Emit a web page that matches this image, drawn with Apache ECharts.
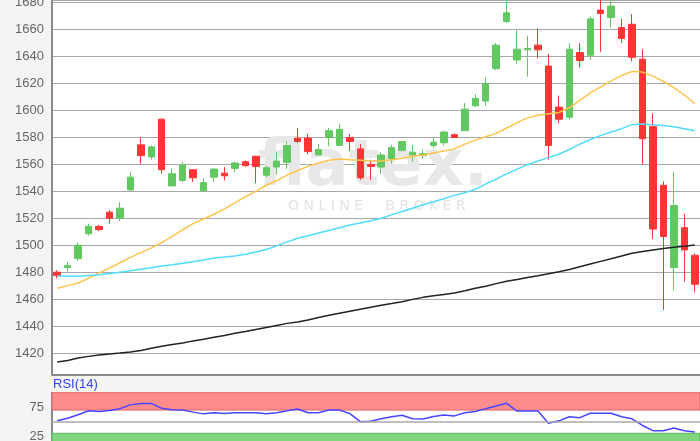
<!DOCTYPE html>
<html><head><meta charset="utf-8">
<script src="https://cdn.jsdelivr.net/npm/echarts@6/dist/echarts.min.js"></script>
<style>html,body{margin:0;padding:0;background:#f4f4f4}#c{width:700px;height:441px}</style>
</head><body><div id="c"></div>
<script>
const categories = [1,2,3,4,5,6,7,8,9,10,11,12,13,14,15,16,17,18,19,20,21,22,23,24,25,26,27,28,29,30,31,32,33,34,35,36,37,38,39,40,41,42,43,44,45,46,47,48,49,50,51,52,53,54,55,56,57,58,59,60,61,62];
const openV  = [1480,1483.5,1490,1508.5,1514,1524.5,1520,1541,1574.5,1565.5,1593.5,1544,1548,1556,1540.5,1550.5,1553.5,1557,1562,1566,1552,1558,1561.5,1579.5,1579.5,1567,1580,1574,1580,1571.5,1560,1558,1564,1570.5,1567,1566.5,1574,1576,1582,1585,1603.5,1607,1631,1666,1637.5,1645,1648.5,1633,1602.5,1595,1643,1641,1674.5,1669,1661.5,1664,1638,1588,1544.5,1483.5,1513,1492.5];
const closeV = [1477.5,1485,1500,1514,1511.5,1520,1527.5,1550.5,1566.5,1573,1556,1553,1559.5,1550,1546.5,1556.5,1551.5,1561,1559,1558.5,1557.5,1562.5,1574,1577,1569.5,1571,1585,1586,1577,1550,1558.5,1567,1572.5,1577,1569,1568,1576.5,1584,1580,1601,1609,1620,1648.5,1672.5,1645.5,1646,1645,1574,1593.5,1645.5,1637,1668,1672,1677.5,1653.5,1639.5,1579,1512,1506.5,1529.5,1496.5,1471];
const lowV   = [1475.5,1480.5,1488,1507,1510.5,1516,1518,1540.5,1560.5,1563.5,1553,1544,1547,1547,1539.5,1547,1548,1554,1558.5,1546,1550.5,1552.5,1556.5,1576,1567.5,1567,1573.5,1573.5,1570,1548.5,1548.5,1553,1560.5,1569.5,1562,1564,1572,1574,1579.5,1585,1602.5,1603.5,1630,1665,1634.5,1625,1638.5,1563.5,1590.5,1593,1632,1637.5,1643.5,1661.5,1650,1636.5,1560,1504.5,1452,1466.5,1473,1465];
const highV  = [1481.5,1487.5,1502,1516,1515,1526,1532,1554.5,1580,1574,1594,1557,1562,1556.5,1549.5,1557.5,1558,1562,1563,1566.5,1559,1569,1577,1587,1583,1575,1587,1590,1582.5,1575,1563.5,1569,1574.5,1577.5,1574.5,1571,1580,1585,1583,1605.5,1612,1624.5,1650,1683,1659.5,1655.5,1661,1642,1611,1650,1650,1670,1683,1682,1668,1671.5,1645.5,1598,1547.5,1554.5,1523.5,1494];
const maShort = [1468,1470,1472,1475.5,1479.5,1483,1487,1491,1494.5,1498,1502,1506.5,1511.5,1516,1519.5,1523,1527,1531.5,1536,1540,1544.5,1548,1552,1555.5,1558.5,1561,1563,1564,1563.5,1563,1562.5,1562.5,1563.5,1564.5,1566,1567,1568.5,1570,1571.5,1575,1578,1580.5,1583,1587,1591,1594.5,1596.5,1597.5,1598.5,1602,1607.5,1613,1617.5,1622,1626,1629,1628.5,1625.5,1621.5,1617,1611.5,1605];
const maMid   = [1477.2,1477,1477,1477.5,1478,1479,1480,1481,1482.2,1483.3,1484.6,1485.5,1486.6,1487.8,1489,1490.5,1491.2,1492,1493.3,1495,1496.8,1499.5,1502.5,1505.2,1507,1509,1511,1513,1515,1516.5,1518.2,1520,1522.5,1525,1527.5,1530,1532.3,1534.5,1537,1539,1541.5,1545.5,1549,1553,1556.5,1559.8,1562.5,1565,1567.5,1571,1575,1578.5,1581.5,1584,1586.5,1589.5,1590,1589.5,1588.8,1588,1586.5,1585];
const maLong  = [1413.4,1414.5,1416.3,1417.5,1418.5,1419.3,1420,1420.8,1421.8,1423.5,1425,1426.3,1427.5,1429,1430.2,1431.7,1433,1434.6,1436,1437.5,1439,1440.5,1442,1443,1444.5,1446.3,1448,1449.5,1451,1452.5,1454,1455.5,1456.7,1458,1459.8,1461.3,1462.5,1463.5,1464.5,1466.2,1468,1469.5,1471.5,1473.2,1474.5,1476,1477.3,1478.8,1480.3,1482,1484,1486,1488,1490,1492,1494,1495.3,1496.5,1497.5,1498.5,1499.3,1500.2];
const rsiV    = [51.7,56,62,69,67.5,69.5,72.5,79,81.5,81.5,73,70.5,70.2,66.5,63.5,65.5,64,65.5,65.5,65.5,63.5,65.5,69,71.8,65.5,65.5,70.2,70,64,50,50.8,55,58.5,61.2,55,54.7,59,61.5,60,65.5,67.5,72.5,77,81.7,68.4,68.4,68.4,47.2,51.5,58.5,57,64.5,64.5,64.5,58.6,55,43.5,34.5,34.5,39,34.5,32.3];
const yTicks = [1420,1440,1460,1480,1500,1520,1540,1560,1580,1600,1620,1640,1660,1680];
const rsiTicks = [25,75];
const rsiBands = {over:[70,100], under:[0,30], mid:50};

const candleData = categories.map((c,i)=>[openV[i], closeV[i], lowV[i], highV[i]]);
const FONT = '"Liberation Sans", Arial, sans-serif';
const chart = echarts.init(document.getElementById('c'));
chart.setOption({
  animation:false,
  backgroundColor:'#f4f4f4',
  textStyle:{fontFamily:FONT},
  grid:[
    {left:52, top:0, right:0, height:374.3, show:true, backgroundColor:'#fff', borderWidth:0, containLabel:false, outerBoundsMode:'none'},
    {left:52, top:392.7, right:0, height:58, show:true, backgroundColor:'#fff', borderWidth:0, containLabel:false, outerBoundsMode:'none'}
  ],
  xAxis:[
    {type:'category', gridIndex:0, data:categories, boundaryGap:true,
     axisLine:{show:true, lineStyle:{color:'#8a8a8a', width:2}}, axisTick:{show:false}, axisLabel:{show:false}, splitLine:{show:false}},
    {type:'category', gridIndex:1, data:categories, boundaryGap:true,
     axisLine:{show:false}, axisTick:{show:false}, axisLabel:{show:false}, splitLine:{show:false}}
  ],
  yAxis:[
    {type:'value', gridIndex:0, min:1404.2, max:1682, splitNumber:14,
     axisLine:{show:true, lineStyle:{color:'#8a8a8a', width:2}}, axisTick:{show:false},
     axisLabel:{color:'#666', fontSize:13, fontFamily:FONT, margin:8,
       formatter:v=> yTicks.indexOf(Math.round(v))>=0 && Math.abs(v-Math.round(v))<1e-6 ? String(Math.round(v)) : ''},
     splitLine:{show:true, lineStyle:{color:'#a6a6a6', width:1}}},
    {type:'value', gridIndex:1, min:0, max:100, interval:25,
     axisLine:{show:true, lineStyle:{color:'#8a8a8a', width:2}}, axisTick:{show:false},
     axisLabel:{color:'#666', fontSize:13, fontFamily:FONT, margin:8,
       formatter:v=> rsiTicks.indexOf(v)>=0 ? String(v) : ''},
     splitLine:{show:false}}
  ],
  graphic:[
    {type:'text', left:258, top:136, z:1, silent:true,
     style:{text:'flatex.', fill:'#e8e8e8', font:'bold 64px "DejaVu Sans", sans-serif'}},
    {type:'text', left:288, top:199, z:1, silent:true,
     style:{text:'O N L I N E     B R O K E R', fill:'#e3e3e3', font:'14px "DejaVu Sans", sans-serif'}},
    {type:'text', left:53, top:378, z:5, silent:true,
     style:{text:'RSI(14)', fill:'#3344ee', font:'13px "Liberation Sans", Arial, sans-serif'}}
  ],
  series:[
    {type:'candlestick', xAxisIndex:0, yAxisIndex:0, data:candleData, barWidth:7, clip:true,
     itemStyle:{color:'#62c862', color0:'#ff3535', borderColor:'#62c862', borderColor0:'#ff3535', borderWidth:1}},
    {type:'line', xAxisIndex:0, yAxisIndex:0, data:maShort, symbol:'none', lineStyle:{color:'#ffc44d', width:1.5}, z:3},
    {type:'line', xAxisIndex:0, yAxisIndex:0, data:maMid, symbol:'none', lineStyle:{color:'#4fdcff', width:1.5}, z:3},
    {type:'line', xAxisIndex:0, yAxisIndex:0, data:maLong, symbol:'none', lineStyle:{color:'#222', width:1.5}, z:3},
    {type:'line', xAxisIndex:1, yAxisIndex:1, data:rsiV, symbol:'none', lineStyle:{color:'#4646ff', width:1.5}, z:4,
     markArea:{silent:true, data:[
       [{yAxis:rsiBands.over[0], itemStyle:{color:'#ff8c8c', borderColor:'#e06666', borderWidth:1}},{yAxis:rsiBands.over[1]}],
       [{yAxis:rsiBands.under[0], itemStyle:{color:'#7fd67f', borderColor:'#5cb85c', borderWidth:1}},{yAxis:rsiBands.under[1]}]
     ]},
     markLine:{silent:true, symbol:'none', label:{show:false}, lineStyle:{color:'#aaa', type:'solid', width:1.5}, data:[{yAxis:rsiBands.mid}]}}
  ]
});
</script></body></html>
